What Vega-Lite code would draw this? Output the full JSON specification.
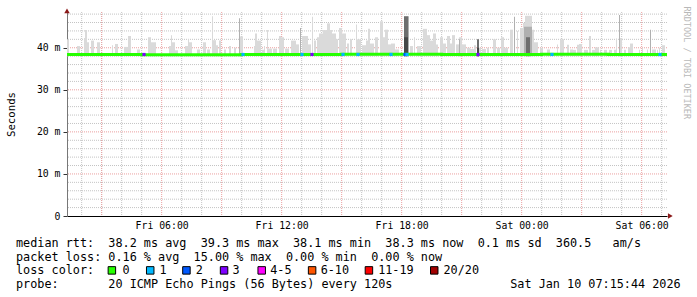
{
  "$schema": "https://vega.github.io/schema/vega-lite/v6.json",
  "background": "white",
  "padding": {"left": 5, "top": 5, "right": 5, "bottom": 5},
  "width": 600,
  "height": 204,
  "config": {
    "view": {"stroke": null},
    "font": "DejaVu Sans Mono",
    "axis": {"labelFont": "DejaVu Sans Mono", "titleFont": "DejaVu Sans Mono", "labelColor": "#000", "titleColor": "#000", "titleFontWeight": "normal", "labelFontSize": 9.8}
  },
  "layer": [
    {
      "layer": [
        {
          "data": {"values": [{"g":2},{"g":4},{"g":6},{"g":8},{"g":12},{"g":14},{"g":16},{"g":18},{"g":22},{"g":24},{"g":26},{"g":28},{"g":32},{"g":34},{"g":36},{"g":38},{"g":42},{"g":44},{"g":46},{"g":48}]},
          "mark": {"type": "rule", "color": "#c4c4c4", "strokeDash": [1, 1], "strokeWidth": 1},
          "encoding": {"y": {"field": "g", "type": "quantitative"}}
        },
        {
          "data": {"values": [{"g":120},{"g":180},{"g":240},{"g":300},{"g":420},{"g":480},{"g":600},{"g":660},{"g":780},{"g":840},{"g":960},{"g":1020},{"g":1140},{"g":1200},{"g":1320},{"g":1380},{"g":1500},{"g":1560},{"g":1680},{"g":1740},{"g":1860}]},
          "mark": {"type": "rule", "color": "#c4c4c4", "strokeDash": [1, 1], "strokeWidth": 1},
          "encoding": {"x": {"field": "g", "type": "quantitative"}}
        },
        {
          "data": {"values": [{"g":10},{"g":20},{"g":30},{"g":40}]},
          "mark": {"type": "rule", "color": "#eba0a0", "strokeDash": [1, 1], "strokeWidth": 1},
          "encoding": {"y": {"field": "g", "type": "quantitative"}}
        },
        {
          "data": {"values": [{"g":180},{"g":360},{"g":540},{"g":720},{"g":900},{"g":1080},{"g":1260},{"g":1440},{"g":1620},{"g":1800}]},
          "mark": {"type": "rule", "color": "#eba0a0", "strokeDash": [1, 1], "strokeWidth": 1},
          "encoding": {"x": {"field": "g", "type": "quantitative"}}
        },
        {
          "data": {"values": [
            {"t":76,"t2":82,"hi":42.0,"s":"l1"},{"t":106,"t2":115,"hi":40.4,"s":"l1"},{"t":127,"t2":130,"hi":42.3,"s":"l1"},{"t":130,"t2":136,"hi":44.2,"s":"l1"},{"t":136,"t2":142,"hi":41.3,"s":"l1"},{"t":148,"t2":157,"hi":41.7,"s":"l1"},{"t":166,"t2":175,"hi":41.3,"s":"l1"},{"t":211,"t2":214,"hi":40.6,"s":"l1"},{"t":220,"t2":229,"hi":40.9,"s":"l1"},{"t":247,"t2":259,"hi":40.2,"s":"l1"},{"t":259,"t2":268,"hi":42.8,"s":"l1"},{"t":286,"t2":295,"hi":39.6,"s":"l1"},{"t":319,"t2":328,"hi":42.5,"s":"l1"},{"t":328,"t2":343,"hi":41.3,"s":"l1"},
            {"t":382,"t2":388,"hi":40.4,"s":"l1"},{"t":388,"t2":391,"hi":43.0,"s":"l1"},{"t":391,"t2":400,"hi":41.3,"s":"l1"},{"t":400,"t2":409,"hi":39.4,"s":"l1"},{"t":430,"t2":439,"hi":40.4,"s":"l1"},{"t":439,"t2":442,"hi":42.0,"s":"l1"},{"t":442,"t2":451,"hi":41.3,"s":"l1"},{"t":466,"t2":475,"hi":39.6,"s":"l1"},{"t":484,"t2":493,"hi":41.3,"s":"l1"},{"t":496,"t2":505,"hi":39.6,"s":"l1"},{"t":511,"t2":514,"hi":47.5,"s":"l1"},{"t":514,"t2":523,"hi":41.8,"s":"l1"},{"t":523,"t2":529,"hi":40.6,"s":"l1"},{"t":532,"t2":538,"hi":41.7,"s":"l1"},{"t":547,"t2":553,"hi":39.6,"s":"l1"},{"t":562,"t2":568,"hi":40.4,"s":"l1"},{"t":577,"t2":583,"hi":40.0,"s":"l1"},{"t":595,"t2":604,"hi":42.7,"s":"l1"},{"t":637,"t2":640,"hi":40.4,"s":"l1"},{"t":640,"t2":646,"hi":43.4,"s":"l1"},{"t":646,"t2":658,"hi":41.7,"s":"l1"},{"t":661,"t2":667,"hi":39.5,"s":"l1"},
            {"t":667,"t2":670,"hi":40.4,"s":"l1"},{"t":676,"t2":679,"hi":44.2,"s":"l1"},{"t":679,"t2":691,"hi":39.8,"s":"l1"},{"t":694,"t2":706,"hi":39.8,"s":"l1"},{"t":712,"t2":718,"hi":42.8,"s":"l1"},{"t":718,"t2":727,"hi":42.5,"s":"l1"},{"t":730,"t2":742,"hi":39.8,"s":"l1"},{"t":748,"t2":763,"hi":41.7,"s":"l1"},{"t":763,"t2":772,"hi":40.8,"s":"l1"},{"t":781,"t2":799,"hi":42.8,"s":"l1"},{"t":799,"t2":808,"hi":40.8,"s":"l1"},{"t":811,"t2":814,"hi":47.4,"s":"l1"},{"t":817,"t2":823,"hi":41.7,"s":"l1"},{"t":826,"t2":832,"hi":42.5,"s":"l1"},{"t":832,"t2":844,"hi":43.4,"s":"l1"},{"t":844,"t2":856,"hi":44.2,"s":"l1"},{"t":856,"t2":865,"hi":45.8,"s":"l1"},{"t":865,"t2":871,"hi":44.2,"s":"l1"},{"t":871,"t2":883,"hi":43.4,"s":"l1"},{"t":883,"t2":889,"hi":42.0,"s":"l1"},{"t":892,"t2":901,"hi":44.7,"s":"l1"},{"t":901,"t2":913,"hi":43.4,"s":"l1"},{"t":916,"t2":922,"hi":41.0,"s":"l1"},{"t":925,"t2":931,"hi":42.0,"s":"l1"},{"t":943,"t2":946,"hi":45.5,"s":"l1"},{"t":946,"t2":958,"hi":42.0,"s":"l1"},{"t":961,"t2":973,"hi":40.6,"s":"l1"},
            {"t":973,"t2":979,"hi":41.7,"s":"l1"},{"t":979,"t2":985,"hi":44.5,"s":"l1"},{"t":985,"t2":997,"hi":41.0,"s":"l1"},{"t":1000,"t2":1009,"hi":42.5,"s":"l1"},{"t":1015,"t2":1024,"hi":46.3,"s":"l1"},{"t":1024,"t2":1030,"hi":42.5,"s":"l1"},{"t":1030,"t2":1039,"hi":44.3,"s":"l1"},{"t":1039,"t2":1048,"hi":40.8,"s":"l1"},{"t":1048,"t2":1060,"hi":41.0,"s":"l1"},{"t":1060,"t2":1072,"hi":39.6,"s":"l1"},{"t":1105,"t2":1114,"hi":40.4,"s":"l1"},{"t":1117,"t2":1120,"hi":42.5,"s":"l1"},{"t":1126,"t2":1138,"hi":40.4,"s":"l1"},{"t":1144,"t2":1156,"hi":44.5,"s":"l1"},{"t":1156,"t2":1165,"hi":43.0,"s":"l1"},{"t":1165,"t2":1174,"hi":41.7,"s":"l1"},{"t":1174,"t2":1183,"hi":43.4,"s":"l1"},{"t":1183,"t2":1189,"hi":40.8,"s":"l1"},{"t":1195,"t2":1204,"hi":42.5,"s":"l1"},{"t":1204,"t2":1213,"hi":41.0,"s":"l1"},{"t":1216,"t2":1225,"hi":42.8,"s":"l1"},{"t":1225,"t2":1231,"hi":41.0,"s":"l1"},{"t":1231,"t2":1240,"hi":43.0,"s":"l1"},{"t":1243,"t2":1252,"hi":40.8,"s":"l1"},{"t":1252,"t2":1261,"hi":42.5,"s":"l1"},
            {"t":1261,"t2":1273,"hi":40.8,"s":"l1"},{"t":1276,"t2":1285,"hi":40.0,"s":"l1"},{"t":1285,"t2":1297,"hi":39.7,"s":"l1"},{"t":1297,"t2":1303,"hi":40.6,"s":"l1"},{"t":1312,"t2":1318,"hi":40.0,"s":"l1"},{"t":1321,"t2":1333,"hi":39.7,"s":"l1"},{"t":1336,"t2":1342,"hi":40.0,"s":"l1"},{"t":1354,"t2":1363,"hi":42.0,"s":"l1"},{"t":1366,"t2":1375,"hi":40.0,"s":"l1"},{"t":1378,"t2":1387,"hi":42.5,"s":"l1"},{"t":1387,"t2":1399,"hi":40.0,"s":"l1"},{"t":1405,"t2":1414,"hi":44.3,"s":"l1"},{"t":1426,"t2":1429,"hi":44.0,"s":"l1"},{"t":1435,"t2":1444,"hi":44.7,"s":"l1"},{"t":1444,"t2":1450,"hi":45.9,"s":"l1"},{"t":1450,"t2":1471,"hi":47.6,"s":"l1"},{"t":1471,"t2":1477,"hi":44.3,"s":"l1"},{"t":1477,"t2":1489,"hi":41.3,"s":"l1"},{"t":1495,"t2":1504,"hi":40.0,"s":"l1"},{"t":1516,"t2":1525,"hi":39.6,"s":"l1"},{"t":1546,"t2":1549,"hi":40.8,"s":"l1"},{"t":1555,"t2":1567,"hi":42.0,"s":"l1"},
            {"t":1576,"t2":1582,"hi":40.7,"s":"l1"},{"t":1585,"t2":1594,"hi":39.6,"s":"l1"},{"t":1594,"t2":1603,"hi":39.5,"s":"l1"},{"t":1606,"t2":1612,"hi":40.7,"s":"l1"},{"t":1612,"t2":1621,"hi":40.9,"s":"l1"},{"t":1627,"t2":1639,"hi":39.5,"s":"l1"},{"t":1642,"t2":1648,"hi":42.8,"s":"l1"},{"t":1651,"t2":1660,"hi":39.5,"s":"l1"},{"t":1660,"t2":1672,"hi":40.1,"s":"l1"},{"t":1675,"t2":1678,"hi":39.5,"s":"l1"},{"t":1687,"t2":1696,"hi":39.5,"s":"l1"},{"t":1702,"t2":1711,"hi":39.5,"s":"l1"},{"t":1717,"t2":1723,"hi":39.5,"s":"l1"},{"t":1723,"t2":1726,"hi":42.2,"s":"l1"},{"t":1735,"t2":1741,"hi":42.3,"s":"l1"},{"t":1747,"t2":1753,"hi":39.5,"s":"l1"},{"t":1759,"t2":1765,"hi":40.1,"s":"l1"},{"t":1765,"t2":1774,"hi":41.0,"s":"l1"},{"t":1792,"t2":1795,"hi":39.5,"s":"l1"},{"t":1801,"t2":1804,"hi":40.0,"s":"l1"},{"t":1816,"t2":1819,"hi":39.6,"s":"l1"},{"t":1831,"t2":1843,"hi":39.6,"s":"l1"},{"t":1846,"t2":1849,"hi":39.5,"s":"l1"},{"t":1852,"t2":1855,"hi":40.0,"s":"l1"},{"t":1861,"t2":1870,"hi":40.6,"s":"l1"},
            {"t":592,"t2":595,"hi":47.0,"s":"l2"},{"t":775,"t2":778,"hi":44.7,"s":"l2"},{"t":1087,"t2":1099,"hi":47.5,"s":"l3"},{"t":1087,"t2":1099,"hi":42.5,"s":"l4"},{"t":1099,"t2":1102,"hi":47.5,"s":"l2"},{"t":1252,"t2":1255,"hi":42.0,"s":"l2"},{"t":1306,"t2":1312,"hi":42.0,"s":"l3"},{"t":1306,"t2":1312,"hi":40.0,"s":"l4"},{"t":1417,"t2":1420,"hi":47.4,"s":"l2"},{"t":1447,"t2":1471,"hi":45.0,"s":"l2"},{"t":1453,"t2":1465,"hi":42.5,"s":"l3"},{"t":1732,"t2":1735,"hi":47.8,"s":"l2"},{"t":1825,"t2":1828,"hi":44.3,"s":"l2"}
          ]},
          "mark": {"type": "rect"},
          "encoding": {
            "x": {"field": "t", "type": "quantitative", "scale": {"domain": [76, 1876], "nice": false, "zero": false},
              "axis": {"title": null, "values": [360, 720, 1080, 1440, 1800],
                "labelExpr": "timeFormat(datetime(2026,0,9,0,datum.value), '%a %H:%M')",
                "grid": false, "ticks": false, "domainColor": "#000", "labelPadding": 4, "labelOverlap": false, "labelFlush": false}},
            "x2": {"field": "t2"},
            "y": {"field": "hi", "type": "quantitative", "scale": {"domain": [0, 48.5], "nice": false},
              "axis": {"title": "Seconds", "titleFontSize": 10.7, "titlePadding": 20, "values": [0, 10, 20, 30, 40],
                "labelExpr": "datum.value == 0 ? '0' : datum.value + ' m'",
                "grid": false, "tickColor": "#333", "tickSize": 4, "labelPadding": 3, "domainColor": "#777", "labelOverlap": false}},
            "y2": {"datum": 38},
            "fill": {"field": "s", "type": "nominal", "scale": {"domain": ["l1","l2","l3","l4"], "range": ["#dadada","#b0b0b0","#6e6e6e","#474747"]}, "legend": null}
          }
        },
        {
          "data": {"values": [
            {"t":76,"v":38.4},{"t":300,"v":38.35},{"t":600,"v":38.4},{"t":900,"v":38.45},{"t":1200,"v":38.4},{"t":1500,"v":38.45},{"t":1700,"v":38.4},{"t":1876,"v":38.4}
          ]},
          "mark": {"type": "line", "color": "#26ff00", "strokeWidth": 3, "interpolate": "step-after"},
          "encoding": {
            "x": {"field": "t", "type": "quantitative"},
            "y": {"field": "v", "type": "quantitative"}
          }
        },
        {
          "data": {"values": [
            {"t":307,"v":38.4,"loss":"3"},{"t":604,"v":38.4,"loss":"1"},{"t":781,"v":38.4,"loss":"1"},{"t":811,"v":38.4,"loss":"3"},{"t":904,"v":38.4,"loss":"1"},{"t":949,"v":38.4,"loss":"1"},{"t":1048,"v":38.4,"loss":"1"},{"t":1090,"v":38.4,"loss":"2"},{"t":1096,"v":38.4,"loss":"1"},{"t":1309,"v":38.4,"loss":"3"},{"t":1531,"v":38.4,"loss":"1"},{"t":1855,"v":38.4,"loss":"1"}
          ]},
          "mark": {"type": "square", "size": 10, "opacity": 1},
          "encoding": {
            "x": {"field": "t", "type": "quantitative"},
            "y": {"field": "v", "type": "quantitative"},
            "color": {"field": "loss", "type": "nominal", "scale": {"domain": ["0","1","2","3","4-5","6-10","11-19","20/20"], "range": ["#26ff00","#00b8ff","#0059ff","#7e00ff","#ff00ff","#ff5500","#ff0000","#a10000"]}, "legend": null}
          }
        }
      ]
    },
    {
      "data": {"values": [
        {"t":76,"v":48.75,"dir":"up"},{"t":1886,"v":0,"dir":"right"}
      ]},
      "mark": {"type": "point", "filled": true, "size": 30, "color": "#8b1a1a", "opacity": 1},
      "encoding": {
        "x": {"field": "t", "type": "quantitative", "scale": {"domain": [76, 1876], "nice": false, "zero": false}, "axis": null},
        "y": {"field": "v", "type": "quantitative", "scale": {"domain": [0, 48.5], "nice": false},
          "axis": {"orient": "right", "title": "RRDTOOL / TOBI OETIKER", "labels": false, "ticks": false, "domain": false, "grid": false,
            "titleColor": "#b8b8b8", "titleFontSize": 8.5, "titleAngle": 90, "titleAlign": "left", "titleY": -6, "titlePadding": 14}},
        "shape": {"field": "dir", "type": "nominal", "scale": {"domain": ["up","right"], "range": ["triangle-up","triangle-right"]}, "legend": null}
      }
    },
    {
      "layer": [
        {
          "data": {"values": [
            {"row":1,"col":0,"txt":"median rtt:\u00a0\u00a038.2 ms avg\u00a0\u00a039.3 ms max\u00a0\u00a038.1 ms min\u00a0\u00a038.3 ms now\u00a0\u00a00.1 ms sd\u00a0\u00a0360.5\u00a0\u00a0\u00a0am/s"},
            {"row":2,"col":0,"txt":"packet loss: 0.16 % avg\u00a0\u00a015.00 % max\u00a0\u00a00.00 % min\u00a0\u00a00.00 % now"},
            {"row":3,"col":0,"txt":"loss color:"},
            {"row":3,"col":15.0,"txt":"0"},{"row":3,"col":20.2,"txt":"1"},{"row":3,"col":25.3,"txt":"2"},{"row":3,"col":30.5,"txt":"3"},{"row":3,"col":35.8,"txt":"4-5"},{"row":3,"col":42.9,"txt":"6-10"},{"row":3,"col":51.0,"txt":"11-19"},{"row":3,"col":60.2,"txt":"20/20"},
            {"row":4,"col":0,"txt":"probe:\u00a0\u00a0\u00a0\u00a0\u00a0\u00a0\u00a020 ICMP Echo Pings (56 Bytes) every 120s"},
            {"row":4,"col":69.6,"txt":"Sat Jan 10 07:15:44 2026"}
          ]},
          "mark": {"type": "text", "align": "left", "baseline": "middle", "font": "DejaVu Sans Mono", "fontSize": 11.8, "color": "#000"},
          "encoding": {
            "x": {"field": "col", "type": "quantitative", "scale": {"domain": [7.18, 91.68], "nice": false, "zero": false}, "axis": null},
            "y": {"field": "row", "type": "quantitative", "scale": {"domain": [-15.861, -0.97], "reverse": true, "nice": false, "zero": false}, "axis": null},
            "text": {"field": "txt"}
          }
        },
        {
          "data": {"values": [
            {"row":3,"col":13.5,"loss":"0"},{"row":3,"col":18.9,"loss":"1"},{"row":3,"col":24.0,"loss":"2"},{"row":3,"col":29.3,"loss":"3"},{"row":3,"col":34.6,"loss":"4-5"},{"row":3,"col":41.7,"loss":"6-10"},{"row":3,"col":49.7,"loss":"11-19"},{"row":3,"col":58.9,"loss":"20/20"}
          ]},
          "mark": {"type": "square", "size": 56, "filled": true, "stroke": "#000", "strokeWidth": 1, "opacity": 1},
          "encoding": {
            "x": {"field": "col", "type": "quantitative"},
            "y": {"field": "row", "type": "quantitative"},
            "color": {"field": "loss", "type": "nominal", "scale": {"domain": ["0","1","2","3","4-5","6-10","11-19","20/20"], "range": ["#26ff00","#00b8ff","#0059ff","#7e00ff","#ff00ff","#ff5500","#ff0000","#a10000"]}, "legend": null}
          }
        }
      ]
    }
  ],
  "resolve": {"scale": {"x": "independent", "y": "independent"}}
}
